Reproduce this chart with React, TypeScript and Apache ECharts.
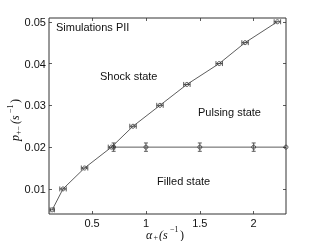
import React, { useEffect, useRef } from "react";
import * as echarts from "echarts";

const upperX = [0.13, 0.23, 0.43, 0.68, 0.88, 1.13, 1.38, 1.68, 1.92, 2.22];
const upperY = [0.005, 0.01, 0.015, 0.02, 0.025, 0.03, 0.035, 0.04, 0.045, 0.05];
const upperErrX = [0.02, 0.03, 0.03, 0.03, 0.03, 0.03, 0.03, 0.03, 0.03, 0.03];
const lowerX = [0.7, 1.0, 1.5, 2.0, 2.3];
const lowerY = [0.02, 0.02, 0.02, 0.02, 0.02];
const lowerErrY = [0.001, 0.001, 0.001, 0.001, 0];
const xTicks = [0.5, 1, 1.5, 2];
const yTicks = [0.01, 0.02, 0.03, 0.04, 0.05];
const labels = ["Simulations PII", "Shock state", "Pulsing state", "Filled state"];

const INK = "#333";
const SANS = "Liberation Sans, Arial, sans-serif";
const SERIF = "Liberation Serif, DejaVu Serif, serif";

function errRender(params: any, api: any) {
  const x = api.value(0), y = api.value(1), ex = api.value(2), ey = api.value(3);
  const children: any[] = [];
  const st = { stroke: INK, lineWidth: 0.8 };
  if (ey > 0) {
    const a = api.coord([x, y - ey]);
    const b = api.coord([x, y + ey]);
    children.push({ type: "line", shape: { x1: a[0], y1: a[1], x2: b[0], y2: b[1] }, style: st });
    children.push({ type: "line", shape: { x1: a[0] - 2, y1: a[1], x2: a[0] + 2, y2: a[1] }, style: st });
    children.push({ type: "line", shape: { x1: b[0] - 2, y1: b[1], x2: b[0] + 2, y2: b[1] }, style: st });
  }
  if (ex > 0) {
    const a = api.coord([x - ex, y]);
    const b = api.coord([x + ex, y]);
    children.push({ type: "line", shape: { x1: a[0], y1: a[1], x2: b[0], y2: b[1] }, style: st });
    children.push({ type: "line", shape: { x1: a[0], y1: a[1] - 2.5, x2: a[0], y2: a[1] + 2.5 }, style: st });
    children.push({ type: "line", shape: { x1: b[0], y1: b[1] - 2.5, x2: b[0], y2: b[1] + 2.5 }, style: st });
  }
  return { type: "group", children };
}

function txt(text: string, x: number, y: number, size: number, family: string, italic = false, align = "left") {
  return {
    type: "text",
    x,
    y,
    style: {
      text,
      fontSize: size,
      fontFamily: family,
      fontStyle: italic ? "italic" : "normal",
      fill: "#111",
      textAlign: align,
      textVerticalAlign: "middle",
    },
  };
}

export default function App() {
  const ref = useRef<HTMLDivElement>(null);
  useEffect(() => {
    if (!ref.current) return;
    const chart = echarts.init(ref.current, null, { renderer: "svg" });
    const upperData = upperX.map((x, i) => [x, upperY[i]]);
    const lowerData = lowerX.map((x, i) => [x, lowerY[i]]);
    const errData = [
      ...upperX.map((x, i) => [x, upperY[i], upperErrX[i], 0]),
      ...lowerX.map((x, i) => [x, lowerY[i], 0, lowerErrY[i]]),
    ];
    const tickCommon = { show: true, inside: true, length: 3, lineStyle: { color: INK, width: 0.8 } };
    chart.setOption({
      animation: false,
      grid: { left: 49, right: 30, top: 18, bottom: 27, show: true, borderColor: INK, borderWidth: 1, backgroundColor: "transparent" },
      xAxis: [
        {
          type: "value", min: 0.1, max: 2.3, position: "bottom",
          axisLine: { show: false }, splitLine: { show: false },
          axisTick: { ...tickCommon, customValues: xTicks },
          axisLabel: { customValues: xTicks, color: "#111", fontSize: 11, fontFamily: SANS, margin: 3 },
        },
        {
          type: "value", min: 0.1, max: 2.3, position: "top",
          axisLine: { show: false }, splitLine: { show: false },
          axisTick: { ...tickCommon, customValues: xTicks },
          axisLabel: { show: false },
        },
      ],
      yAxis: [
        {
          type: "value", min: 0.004, max: 0.0509, position: "left",
          axisLine: { show: false }, splitLine: { show: false },
          axisTick: { ...tickCommon, customValues: yTicks },
          axisLabel: { customValues: yTicks, color: "#111", fontSize: 11, fontFamily: SANS, margin: 3 },
        },
        {
          type: "value", min: 0.004, max: 0.0509, position: "right",
          axisLine: { show: false }, splitLine: { show: false },
          axisTick: { ...tickCommon, customValues: yTicks },
          axisLabel: { show: false },
        },
      ],
      series: [
        {
          type: "line", data: upperData, xAxisIndex: 0, yAxisIndex: 0,
          lineStyle: { color: INK, width: 0.8 },
          symbol: "circle", symbolSize: 4, showAllSymbol: true,
          itemStyle: { color: "transparent", borderColor: INK, borderWidth: 0.8 },
        },
        {
          type: "line", data: lowerData, xAxisIndex: 0, yAxisIndex: 0,
          lineStyle: { color: INK, width: 0.8 },
          symbol: "circle", symbolSize: 4, showAllSymbol: true,
          itemStyle: { color: "transparent", borderColor: INK, borderWidth: 0.8 },
        },
        {
          type: "custom", data: errData, xAxisIndex: 0, yAxisIndex: 0,
          renderItem: errRender, clip: false,
        },
      ],
      graphic: [
        txt(labels[0], 56, 27, 11, SANS),
        txt(labels[1], 100, 76, 11, SANS),
        txt(labels[2], 198, 112, 11, SANS),
        txt(labels[3], 157, 181, 11, SANS),
        // x-axis title: alpha_+ (s^-1)
        txt("α", 146, 234.5, 12, SERIF, true),
        txt("+", 153.5, 237, 8, SERIF),
        txt("(s", 159, 234.5, 12, SERIF, true),
        txt("−1", 170, 229.5, 8, SERIF),
        txt(")", 180, 234.5, 12, SERIF),
        // y-axis title: p_{+-} (s^-1), rotated
        {
          type: "group",
          x: 15,
          y: 118,
          rotation: Math.PI / 2,
          children: [
            txt("p", -23, 0, 12, SERIF, true),
            txt("+−", -17, 3, 8, SERIF),
            txt("(s", -6, 0, 12, SERIF, true),
            txt("−1", 5, -5, 8, SERIF),
            txt(")", 15, 0, 12, SERIF),
          ],
        },
      ],
    });
    return () => chart.dispose();
  }, []);
  return <div ref={ref} style={{ position: "fixed", left: 0, top: 0, width: 316, height: 241 }} />;
}
